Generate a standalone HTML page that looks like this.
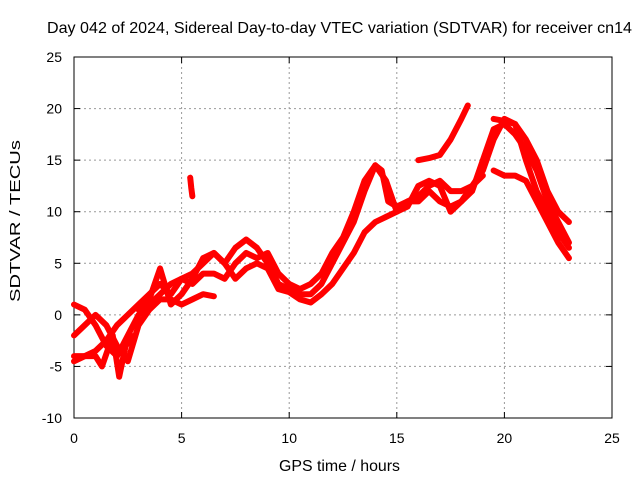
<!DOCTYPE html>
<html><head><meta charset="utf-8"><style>
body{margin:0;background:#fff;}
text{font-family:"Liberation Sans",sans-serif;font-size:14px;fill:#000;}
.big{font-size:16px;}
</style></head><body>
<svg id="chart" width="640" height="480">
<text class="big" x="47" y="33" textLength="585" lengthAdjust="spacingAndGlyphs">Day 042 of 2024, Sidereal Day-to-day VTEC variation (SDTVAR) for receiver cn14</text>
<g id="grid"></g>
<rect x="74" y="57" width="538" height="361" fill="none" stroke="#000"/>
<g id="ticks"></g>
<g id="series"></g>
<text class="big" x="279" y="471" textLength="121" lengthAdjust="spacingAndGlyphs">GPS time / hours</text>
<text transform="translate(20,302) rotate(-90)" textLength="162" lengthAdjust="spacingAndGlyphs" style="font-size:15px">SDTVAR / TECUs</text>
</svg>
<script>
const xTicks=[0,5,10,15,20,25];
const yTicks=[-10,-5,0,5,10,15,20,25];
const track1=[[0,-4.5],[0.5,-4],[1,-3.5],[1.5,-2.5],[2,-1],[2.5,0],[3,1],[3.5,2],[4,3],[4.5,2],[5,3.5],[5.5,4],[6,5],[6.5,6],[7,5],[7.5,6.5],[8,7.3],[8.5,6.5],[9,5],[9.5,3],[10,2.5],[10.5,2],[11,2],[11.5,3],[12,5],[12.5,7],[13,9],[13.5,12],[14,14.5],[14.3,14],[14.6,11],[15,10.5],[15.5,11],[16,11],[16.5,12],[17,11],[17.5,10.5],[18,11],[18.5,12],[19,15],[19.5,18],[20,18.5],[20.5,17.5],[21,16],[21.5,14],[22,11],[22.5,9],[23,7]];
const track2=[[0,1],[0.5,0.5],[1,-1],[1.5,-3],[2,-4],[2.5,-2],[3,0],[3.5,1],[4,2],[4.5,3],[5,3.5],[5.5,3],[6,4],[6.5,4],[7,3.5],[7.5,5],[8,6],[8.5,5.5],[9,6],[9.5,4],[10,3],[10.5,2.5],[11,3],[11.5,4],[12,6],[12.5,7.5],[13,10],[13.5,13],[14,14.5],[14.5,13],[15,10],[15.5,10.5],[16,12.5],[16.5,13],[17,12.5],[17.5,10],[18,11],[18.5,12.5],[19,14],[19.5,17],[20,19],[20.5,18.5],[21,17],[21.5,15],[22,12],[22.5,10],[23,9]];
const track3=[[0,-2],[0.5,-1],[1,0],[1.5,-1],[2,-3],[2.5,-4.5],[3,-1],[3.5,0.5],[4,1.5],[4.5,1.5],[5,1],[5.5,1.5],[6,2],[6.5,1.8]];
const track4=[[0,-4],[1,-4],[1.3,-5],[1.8,-2],[2.1,-6],[2.4,-3],[2.8,-2]];
const track5=[[3,0.5],[3.5,1.5],[4,4.5],[4.5,1],[5,2],[5.5,3.5],[6,5.5],[6.5,6],[7,5],[7.5,3.5],[8,4.5],[8.5,5],[9,4.5],[9.5,2.5],[10,2.2],[10.5,1.5],[11,1.2],[11.5,2],[12,3],[12.5,4.5],[13,6],[13.5,8],[14,9],[14.5,9.5],[15,10],[15.5,11],[16,11.5],[16.5,12.5],[17,13],[17.5,12],[18,12],[18.5,12.5],[19,13.5]];
const track6=[[16,15],[16.5,15.2],[17,15.5],[17.5,17],[18,19],[18.3,20.3]];
const track7=[[19.5,14],[20,13.5],[20.5,13.5],[21,13],[21.5,11],[22,9],[22.5,7],[23,5.5]];
const track8=[[5.4,13.3],[5.45,12.3],[5.5,11.5]];
const track9=[[19.5,19],[20,18.8],[20.5,18.5],[21,15],[21.5,12],[22,10],[22.5,8],[23,6.5]];
const tracks=[track1,track2,track3,track4,track5,track6,track7,track8,track9];
const NS="http://www.w3.org/2000/svg";
const X=h=>74+h*(538/25);
const Y=v=>418-(v+10)*(361/35);
function mk(tag,attrs,parent){const e=document.createElementNS(NS,tag);for(const k in attrs)e.setAttribute(k,attrs[k]);parent.appendChild(e);return e;}
const grid=document.getElementById('grid'),ticks=document.getElementById('ticks'),ser=document.getElementById('series');
xTicks.forEach(t=>{
 if(t>0&&t<25){const l=mk('line',{x1:X(t),x2:X(t),y1:57,y2:418,stroke:'#999','stroke-dasharray':'2,3'},grid);
 
 }
 mk('line',{x1:X(t),x2:X(t),y1:418,y2:412,stroke:'#000'},ticks);
 mk('line',{x1:X(t),x2:X(t),y1:57,y2:63,stroke:'#000'},ticks);
 const tx=mk('text',{x:X(t),y:443,'text-anchor':'middle'},ticks);tx.textContent=t;
 
 
});
yTicks.forEach(t=>{
 if(t>-10&&t<25){const l=mk('line',{x1:74,x2:612,y1:Y(t),y2:Y(t),stroke:'#999','stroke-dasharray':'2,3'},grid);
 
 }
 mk('line',{x1:74,x2:80,y1:Y(t),y2:Y(t),stroke:'#000'},ticks);
 mk('line',{x1:606,x2:612,y1:Y(t),y2:Y(t),stroke:'#000'},ticks);
 const tx=mk('text',{x:62,y:Y(t)+5,'text-anchor':'end'},ticks);tx.textContent=t;
 
 
});
tracks.forEach((tr,i)=>{
 const p=mk('polyline',{points:tr.map(d=>X(d[0])+','+Y(d[1])).join(' '),fill:'none',stroke:'#f00','stroke-width':6,'stroke-linejoin':'round','stroke-linecap':'round'},ser);
 
 
});
</script>
</body></html>
